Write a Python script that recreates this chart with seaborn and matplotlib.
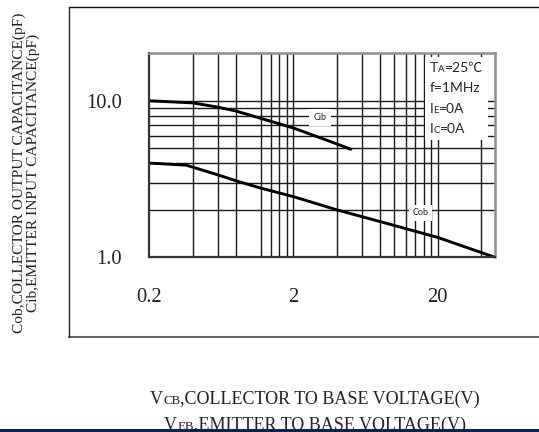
import numpy as np
import pandas as pd
import matplotlib
matplotlib.use("Agg")
import matplotlib.pyplot as plt
import seaborn as sns
from matplotlib.lines import Line2D
from matplotlib.patches import Rectangle
from matplotlib.offsetbox import TextArea, HPacker, VPacker, AnchoredOffsetbox, AnnotationBbox

# ---- data ----
cib_v = [0.2, 0.4, 0.6, 0.8, 1.2, 2.0, 4.0, 5.0]
cib_c = [10.0, 9.7, 9.1, 8.6, 7.7, 6.7, 5.3, 4.9]
cob_v = [0.2, 0.36, 0.6, 0.8, 1.2, 2.0, 4.0, 8.0, 20.0, 50.0]
cob_c = [4.0, 3.88, 3.36, 3.08, 2.76, 2.44, 2.01, 1.69, 1.34, 1.0]
x_ticks = [0.2, 2, 20]
x_tick_labels = ["0.2", "2", "20"]
y_ticks = [1.0, 10.0]
y_tick_labels = ["1.0", "10.0"]
x_grid = [0.4, 0.6, 0.8, 1.2, 1.4, 1.6, 1.8, 2, 4, 6, 8, 10, 12, 14, 16, 18, 20, 40]
y_grid = [2, 3, 4, 5, 6, 7, 8, 9, 10]
cond_lines = [("T", "A", "=25℃"), ("f=1MHz", "", ""), ("I", "E", "=0A"), ("I", "C", "=0A")]

sns.set_style("white")
serif = "Liberation Serif"
sans = ["Lato", "Noto Sans CJK SC", "DejaVu Sans"]

fig = plt.figure(figsize=(5.39, 4.32), dpi=100)
W, H = 539, 432
ax = fig.add_axes([149.3 / W, 1 - 257.3 / H, (495 - 149.3) / W, (257.3 - 53) / H])

df_cib = pd.DataFrame({"v": cib_v, "c": cib_c})
df_cob = pd.DataFrame({"v": cob_v, "c": cob_c})
sns.lineplot(data=df_cib, x="v", y="c", ax=ax, color="black", lw=2.1, zorder=5)
sns.lineplot(data=df_cob, x="v", y="c", ax=ax, color="black", lw=2.1, zorder=5)

ax.set_xscale("log")
ax.set_yscale("log")
ax.set_xlim(0.2, 50)
ax.set_ylim(1.0, 20.2)

for xv in x_grid:
    ax.axvline(xv, color="#1a1a1a", lw=1.0, zorder=1)
for yv in y_grid:
    ax.axhline(yv, color="#1a1a1a", lw=1.0, zorder=1)

ax.set_xticks(x_ticks)
ax.set_xticklabels(x_tick_labels)
ax.set_yticks(y_ticks)
ax.set_yticklabels(y_tick_labels)
ax.minorticks_off()
ax.tick_params(axis="both", length=0, labelsize=14.8, labelcolor="#222222")
ax.tick_params(axis="x", pad=22)
ax.tick_params(axis="y", pad=19.5)
for lab in ax.get_xticklabels() + ax.get_yticklabels():
    lab.set_fontfamily(serif)
ax.set_xlabel("")
ax.set_ylabel("")

for s in ["top", "right"]:
    ax.spines[s].set_color("#8f8f8f")
    ax.spines[s].set_linewidth(1.8)
for s in ["left", "bottom"]:
    ax.spines[s].set_color("#333333")
    ax.spines[s].set_linewidth(1.6)
for s in ax.spines.values():
    s.set_zorder(10)

# condition box
rows = []
for a, b, c in cond_lines:
    kids = [TextArea(a, textprops=dict(size=10, family=sans))]
    if b:
        kids.append(TextArea(b, textprops=dict(size=7, family=sans)))
    if c:
        kids.append(TextArea(c, textprops=dict(size=10, family=sans)))
    rows.append(HPacker(children=kids, align="baseline", pad=0, sep=0))
box = VPacker(children=rows, align="left", pad=0, sep=6)
ab = AnchoredOffsetbox(loc="upper left", child=box, pad=0.35, borderpad=0,
                       bbox_to_anchor=(425 / W, 1 - 57 / H), bbox_transform=fig.transFigure,
                       frameon=True)
ab.patch.set_facecolor("white")
ab.patch.set_edgecolor("none")
ab.set_zorder(6)
ax.add_artist(ab)

# curve labels
ax.text(3.05, 7.8, "Cib", fontsize=6.5, family=sans, ha="center", va="center", zorder=7,
        bbox=dict(facecolor="white", edgecolor="none", pad=3))
ax.text(15.3, 1.92, "Cob", fontsize=6.5, family=sans, ha="center", va="center", zorder=7,
        bbox=dict(facecolor="white", edgecolor="none", pad=2.5))

# y-axis label (two lines)
fig.text(19 / W, 1 - 173 / H, "Cob,COLLECTOR OUTPUT CAPACITANCE(pF)", rotation=90,
         ha="center", va="center", family=serif, fontsize=11.1, color="#222222")
fig.text(33.5 / W, 1 - 173 / H, "Cib,EMITTER INPUT CAPACITANCE(pF)", rotation=90,
         ha="center", va="center", family=serif, fontsize=11.1, color="#222222")

# x-axis label (two lines with small caps subscripts)
def xlab(prefix, small, rest, y):
    kids = [TextArea(prefix, textprops=dict(size=13, family=serif, color="#222222")),
            TextArea(small, textprops=dict(size=9.3, family=serif, color="#222222")),
            TextArea(rest, textprops=dict(size=13, family=serif, color="#222222"))]
    hp = HPacker(children=kids, align="baseline", pad=0, sep=0)
    abx = AnnotationBbox(hp, (315 / W, 1 - y / H), xycoords="figure fraction",
                         frameon=False, box_alignment=(0.5, 0.5), pad=0)
    fig.add_artist(abx)

xlab("V", "CB", ",COLLECTOR TO BASE VOLTAGE(V)", 399)
xlab("V", "EB", ",EMITTER TO BASE VOLTAGE(V)", 425)

# outer frame lines
fig.add_artist(Line2D([69 / W, 1.0], [1 - 6.5 / H, 1 - 6.5 / H], transform=fig.transFigure,
                      color="#111111", lw=1.0))
fig.add_artist(Line2D([69 / W, 1.0], [1 - 337 / H, 1 - 337 / H], transform=fig.transFigure,
                      color="#666666", lw=1.5))
fig.add_artist(Line2D([69 / W, 69 / W], [1 - 6.5 / H, 1 - 337 / H], transform=fig.transFigure,
                      color="#222222", lw=1.0))

# navy bottom bar
fig.add_artist(Rectangle((0, 0), 1, 3.5 / H, transform=fig.transFigure,
                         facecolor="#0c1f5a", edgecolor="none", zorder=20))

fig.savefig("out.png", dpi=100)
